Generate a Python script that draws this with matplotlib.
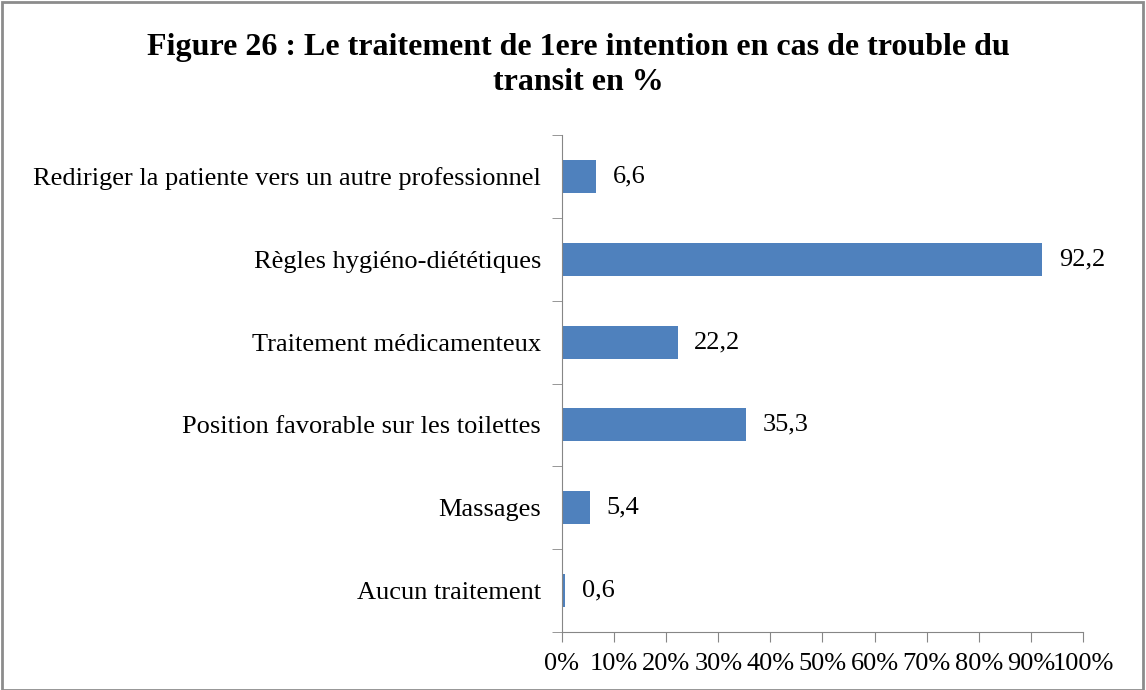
import matplotlib.pyplot as plt
import matplotlib.patches as patches
import numpy as np

categories = ["Rediriger la patiente vers un autre professionnel",
              "Règles hygiéno-diététiques",
              "Traitement médicamenteux",
              "Position favorable sur les toilettes",
              "Massages",
              "Aucun traitement"]
values = [6.6, 92.2, 22.2, 35.3, 5.4, 0.6]
value_labels = ["6,6", "92,2", "22,2", "35,3", "5,4", "0,6"]
xticks = list(range(0, 101, 10))
xtick_labels = ["{}%".format(t) for t in xticks]

plt.rcParams['font.family'] = ['Liberation Serif', 'DejaVu Serif']

fig = plt.figure(figsize=(11.46, 6.90), dpi=100)
ax = fig.add_axes([0.4904, 0.0841, 0.4546, 0.7202])

y = np.arange(len(categories))
ax.barh(y, values, height=0.4, color='#4f81bd')
ax.set_ylim(len(categories) - 0.5, -0.5)
ax.set_xlim(0, 100)

for yi, v, lab in zip(y, values, value_labels):
    ax.text(v + 3.2, yi, lab, va='center', ha='left', fontsize=19)

ax.set_yticks(y)
ax.set_yticklabels(categories, fontsize=19)
ax.set_yticks(np.arange(-0.5, len(categories), 1), minor=True)
ax.tick_params(axis='y', which='major', length=0, pad=15)
ax.tick_params(axis='y', which='minor', length=7, color='#868686')
ax.set_xticks(xticks)
ax.set_xticklabels(xtick_labels, fontsize=19)
ax.tick_params(axis='x', length=7, color='#868686', pad=8)

for s in ['top', 'right']:
    ax.spines[s].set_visible(False)
for s in ['left', 'bottom']:
    ax.spines[s].set_color('#868686')

fig.text(0.5045, 0.906, "Figure 26 : Le traitement de 1ere intention en cas de trouble du\ntransit en %",
         ha='center', va='center', fontsize=23, fontweight='bold', linespacing=1.25)

fig.patches.append(patches.Rectangle((0.002, 0.0), 0.995, 0.997, transform=fig.transFigure,
                                     fill=False, edgecolor='#8c8c8c', linewidth=2))

fig.savefig('out.png', dpi=100)
